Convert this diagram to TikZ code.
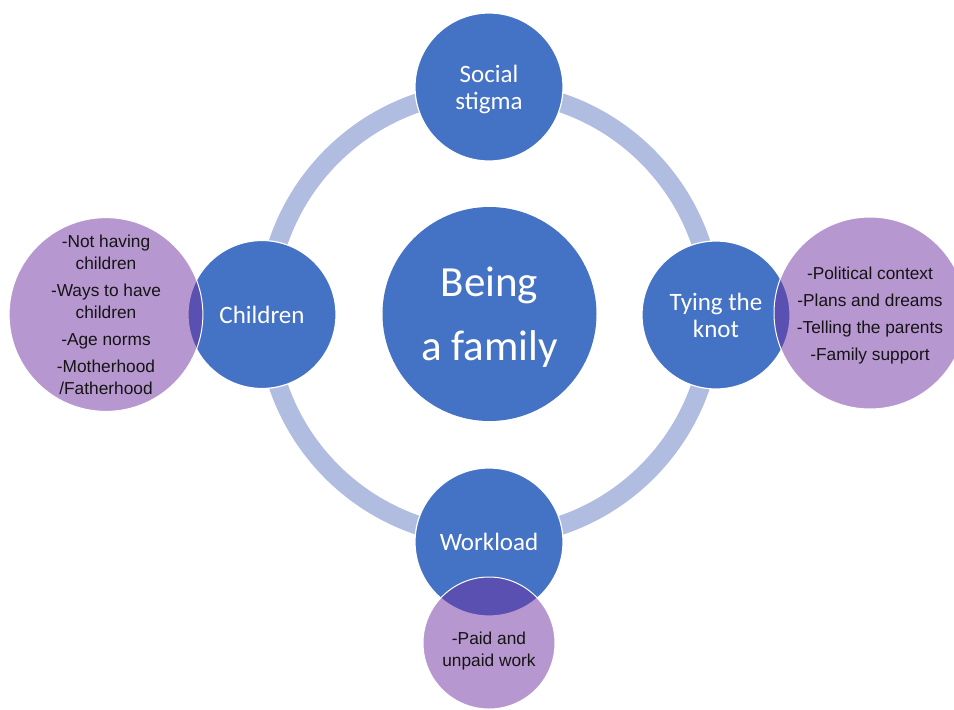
\documentclass[tikz,border=0pt]{standalone}
\usepackage{fontspec}
\setmainfont{Carlito}
\newfontfamily\arialf{Liberation Sans}
\definecolor{nodeblue}{RGB}{68,114,196}
\definecolor{ringblue}{RGB}{176,189,224}
\definecolor{subpurple}{RGB}{112,48,160}
\definecolor{subtext}{RGB}{20,20,20}
\begin{document}
\begin{tikzpicture}[x=1pt,y=-1pt,
  corebox/.style={circle,fill=nodeblue,inner sep=0pt,minimum size=214pt},
  coretxt/.style={inner sep=0pt,text=white,font=\fontsize{43}{64}\selectfont,align=center},
  topic/.style={circle,fill=nodeblue,draw=white,line width=1.2pt,inner sep=0pt,
    minimum size=148pt,text=white,font=\fontsize{25}{27}\selectfont,align=center},
  sub/.style={circle,fill=subpurple,fill opacity=0.5,text opacity=1,draw=white,
    draw opacity=1,line width=1pt,inner sep=0pt,text=subtext,
    font=\arialf\fontsize{17.3}{22}\selectfont,align=center},
  subtxt/.style={inner sep=0pt,text=subtext,font=\arialf\fontsize{17.3}{22}\selectfont,align=center},
  ring/.style={draw=ringblue,line width=19pt}]
\useasboundingbox (0,0) rectangle (954,710);
\node[corebox] (core) at (489.5,314) {};
\node[coretxt] (coretext) at ([yshift=-3pt]core.center) {Being\\a family};
\draw[ring] (core.center) circle[radius=223pt];
\node[topic] (stigma) at (489,87) {};
\node[inner sep=0pt,text=white,font=\fontsize{25}{27}\selectfont,align=center]
  (stigmatxt) at ([yshift=-2pt]stigma.center) {Social\\stigma};
\node[topic] (work) at (489,542) {Workload};
\node[topic] (child) at (262,314.5) {Children};
\node[topic] (knot) at (716,315) {Tying the\\knot};
\node[sub,minimum size=192pt] (childsub) at (106,314.5)
  {-Not having\\children\\[5pt]-Ways to have\\children\\[5pt]-Age norms\\[5pt]-Motherhood\\/Fatherhood};
\node[sub,minimum size=192pt] (knotsub) at (870,313)
  {};
\node[subtxt] (knottxt) at ([yshift=-2.5pt]knotsub.center)
  {-Political context\\[5pt]-Plans and dreams\\[5pt]-Telling the parents\\[5pt]-Family support};
\node[sub,minimum size=132pt] (worksub) at (489,643) {};
\node[subtxt] (worktxt) at ([yshift=-8pt]worksub.center) {-Paid and\\unpaid work};
\end{tikzpicture}
\end{document}
